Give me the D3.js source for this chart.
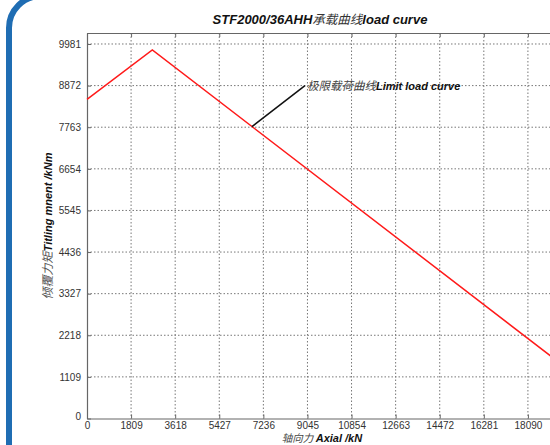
<!DOCTYPE html>
<html><head><meta charset="utf-8">
<script src="https://cdn.jsdelivr.net/npm/d3@7"></script>
<style>
html,body{margin:0;padding:0;background:#fff;overflow:hidden;}
svg{display:block;}
</style></head>
<body>
<svg id="c" width="550" height="445"></svg>
<script>
// ---- data ----
const titleParts = ["STF2000/36AHH", "承载曲线", "load curve"];
const xTicks = [0, 1809, 3618, 5427, 7236, 9045, 10854, 12663, 14472, 16281, 18090];
const yTicks = [0, 1109, 2218, 3327, 4436, 5545, 6654, 7763, 8872, 9981];
const axialKN = [0, 2680, 19899];
const momentKNm = [8506, 9821, 1230];
const annotPoint = [6768, 7780];
const annotText = ["极限载荷曲线", "Limit load curve"];
const xLabel = ["轴向力 ", "Axial /kN"];
const yLabel = ["倾覆力矩", "Titling mnent /kNm"];

const svg = d3.select("#c");
const x = d3.scaleLinear().domain([0, 19899]).range([87, 572]);
const y = d3.scaleLinear().domain([0, 10274]).range([418.5, 33]);
const L = 87, R = 572, T = 33, B = 418.5;

// blue decorative frame
svg.append("path")
  .attr("d", `M9,450 L9,28 A32,32 0 0 1 41,-4 L600,-4`)
  .attr("fill", "none").attr("stroke", "#1f6db3").attr("stroke-width", 6);

// grid
const g = svg.append("g");
g.selectAll("line.vx").data(xTicks.slice(1)).join("line")
  .attr("x1", d => x(d)).attr("x2", d => x(d)).attr("y1", T).attr("y2", B)
  .attr("stroke", "#777").attr("stroke-width", 1).attr("stroke-dasharray", "1.5,2");
g.selectAll("line.hy").data(yTicks.slice(1)).join("line")
  .attr("x1", L).attr("x2", R).attr("y1", d => y(d)).attr("y2", d => y(d))
  .attr("stroke", "#777").attr("stroke-width", 1).attr("stroke-dasharray", "1.5,2");

// axes
const fmt = d3.format("d");
const xa = svg.append("g").attr("transform", `translate(0,${B})`)
  .call(d3.axisBottom(x).tickValues(xTicks).tickFormat(fmt).tickSizeInner(-4).tickSizeOuter(0).tickPadding(3));
const xt = svg.append("g").attr("transform", `translate(0,${T})`)
  .call(d3.axisTop(x).tickValues(xTicks).tickFormat("").tickSizeInner(-4).tickSizeOuter(0));
const ya = svg.append("g").attr("transform", `translate(${L},0)`)
  .call(d3.axisLeft(y).tickValues(yTicks).tickFormat(fmt).tickSizeInner(-4).tickSizeOuter(0).tickPadding(6));
[xa, xt, ya].forEach(a => {
  a.select(".domain").attr("stroke", "#666").attr("stroke-width", 1.2);
  a.selectAll(".tick line").attr("stroke", "#666");
  a.selectAll("text").attr("font-family", "Liberation Sans, Arial, sans-serif").attr("font-size", 10).attr("fill", "#333");
});
ya.selectAll(".tick").filter(d => d === 0).select("text").attr("dy", "0.1em");

// line
const pts = axialKN.map((v, i) => [v, momentKNm[i]]);
svg.append("path").datum(pts)
  .attr("d", d3.line().x(d => x(d[0])).y(d => y(d[1])))
  .attr("fill", "none").attr("stroke", "#ff1a1a").attr("stroke-width", 1.5);

// annotation
const ax = x(annotPoint[0]), ay = y(annotPoint[1]);
svg.append("line").attr("x1", ax).attr("y1", ay).attr("x2", ax + 53).attr("y2", ay - 41)
  .attr("stroke", "#111").attr("stroke-width", 1.5);
const at = svg.append("text").attr("x", ax + 55).attr("y", ay - 37)
  .attr("font-size", 11).attr("font-style", "italic");
at.append("tspan").text(annotText[0]).attr("font-family", "Noto Sans CJK SC").attr("fill", "#444").attr("font-size", 11.5);
at.append("tspan").text(annotText[1]).attr("font-family", "Liberation Sans, Arial").attr("font-weight", "bold").attr("fill", "#111");

// title
const tt = svg.append("text").attr("x", 320).attr("y", 24).attr("text-anchor", "middle")
  .attr("font-style", "italic").attr("font-size", 13);
tt.append("tspan").text(titleParts[0]).attr("font-family", "Liberation Sans, Arial").attr("font-weight", "bold").attr("fill", "#111");
tt.append("tspan").text(titleParts[1]).attr("font-family", "Noto Sans CJK SC").attr("fill", "#333").attr("font-size", 12.5);
tt.append("tspan").text(titleParts[2]).attr("font-family", "Liberation Sans, Arial").attr("font-weight", "bold").attr("fill", "#111");

// x label
const xl = svg.append("text").attr("x", 322).attr("y", 441.5).attr("text-anchor", "middle")
  .attr("font-style", "italic").attr("font-size", 11);
xl.append("tspan").text(xLabel[0]).attr("font-family", "Noto Sans CJK SC").attr("fill", "#444").attr("font-size", 10.5);
xl.append("tspan").text(xLabel[1]).attr("font-family", "Liberation Sans, Arial").attr("font-weight", "bold").attr("fill", "#111");

// y label
const yl = svg.append("text").attr("transform", "translate(52,226) rotate(-90)").attr("text-anchor", "middle")
  .attr("font-style", "italic").attr("font-size", 11);
yl.append("tspan").text(yLabel[0]).attr("font-family", "Noto Sans CJK SC").attr("fill", "#555").attr("font-size", 12);
yl.append("tspan").text(yLabel[1]).attr("font-family", "Liberation Sans, Arial").attr("font-weight", "bold").attr("fill", "#111");
</script>
</body></html>
